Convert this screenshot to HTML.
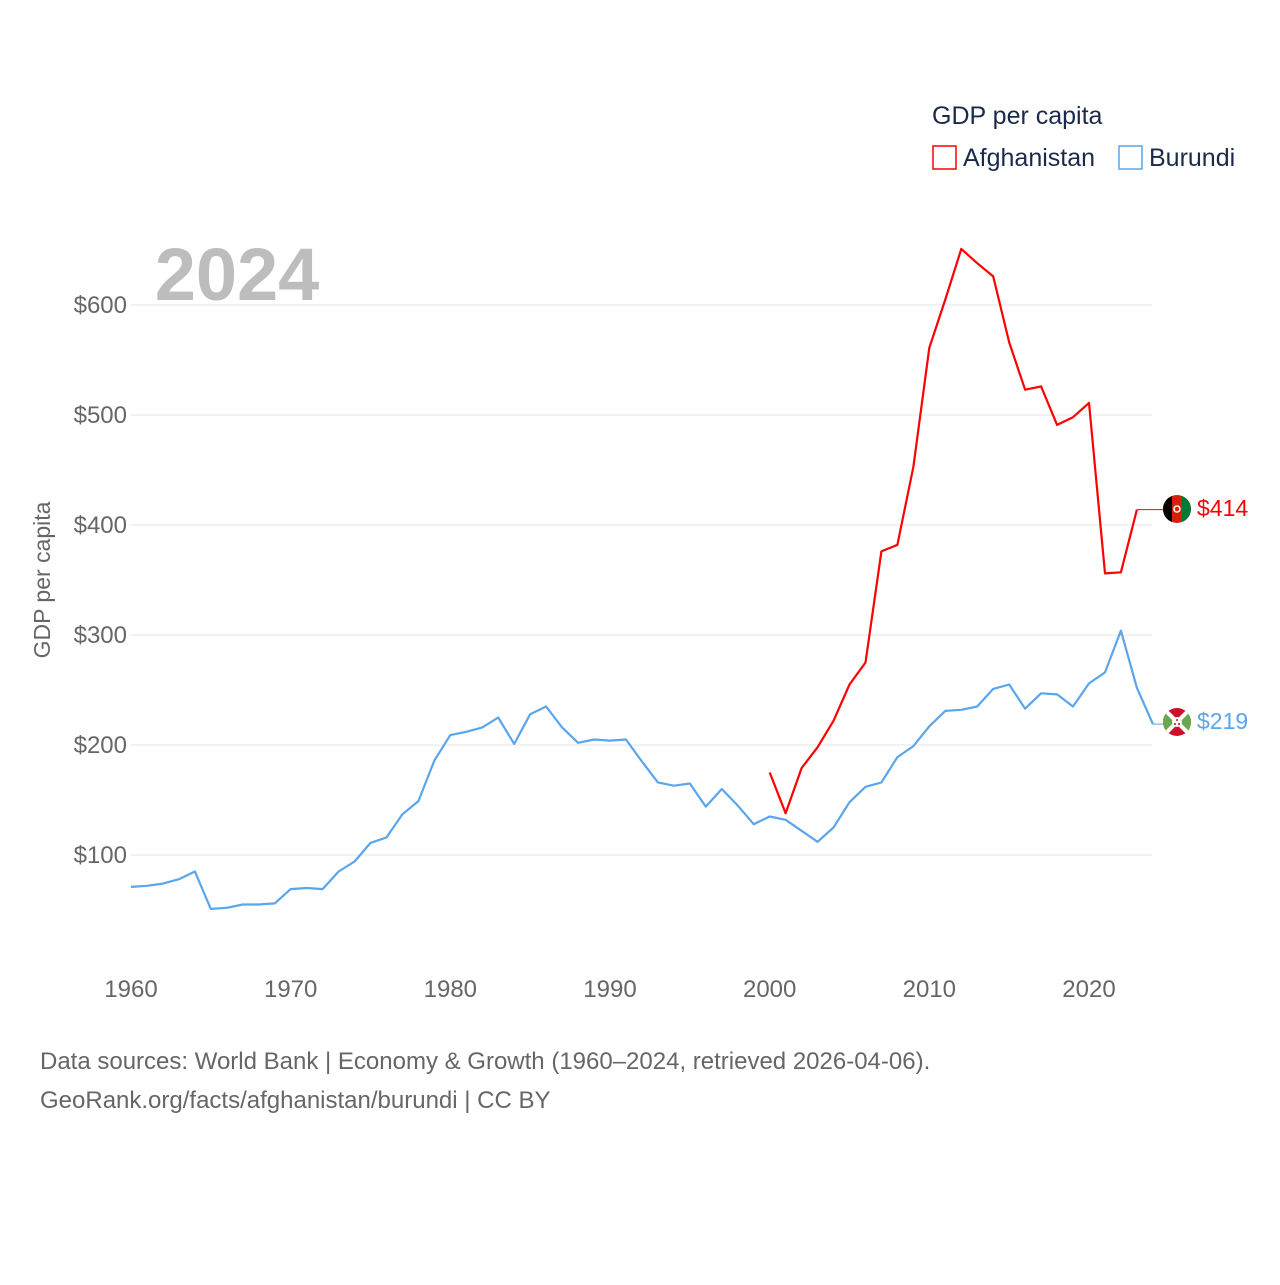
<!DOCTYPE html>
<html><head><meta charset="utf-8"><style>
body{margin:0;background:#fff;font-family:"Liberation Sans",sans-serif;}
svg text{font-family:"Liberation Sans",sans-serif;}
</style></head><body>
<svg width="1280" height="1280" viewBox="0 0 1280 1280">
<defs><clipPath id="bc"><circle cx="1177" cy="722" r="14"/></clipPath></defs>
<g id="grid"></g>
<g id="ylabels"></g>
<g id="xlabels"></g>
<text x="237" y="300" font-size="74" font-weight="bold" fill="#bdbdbd" text-anchor="middle">2024</text>
<text x="50" y="580" font-size="23" fill="#666" text-anchor="middle" transform="rotate(-90 50 580)">GDP per capita</text>
<text x="932" y="124" font-size="25" fill="#1a2a4a">GDP per capita</text>
<g><rect x="933" y="146" width="23" height="23" fill="none" stroke="#f00" stroke-width="1.5"/><text x="963" y="166" font-size="25" fill="#1a2a4a">Afghanistan</text></g>
<g><rect x="1119" y="146" width="23" height="23" fill="none" stroke="#5aa5ec" stroke-width="1.5"/><text x="1149" y="166" font-size="25" fill="#1a2a4a">Burundi</text></g>
<g id="series"></g>
<g>
<circle cx="1177" cy="509" r="14" fill="#d32011"/><path d="M1163 509a14 14 0 0 1 9-13v26a14 14 0 0 1-9-13z" fill="#000"/><path d="M1191 509a14 14 0 0 1-9 13v-26a14 14 0 0 1 9 13z" fill="#007a36"/><circle cx="1177" cy="509" r="3" fill="none" stroke="#fff" stroke-width="1.5"/>
<text x="1197" y="516" font-size="23" fill="#f00">$414</text></g>
<g>
<g clip-path="url(#bc)"><rect x="1163" y="708" width="28" height="28" fill="#ce1126"/><path d="M1163 708L1177 722L1163 736zM1191 708L1177 722L1191 736z" fill="#6aa84f"/><path d="M1163 708L1191 736M1163 736L1191 708" stroke="#fff" stroke-width="4"/></g><circle cx="1177" cy="722" r="5" fill="#fff"/><circle cx="1177" cy="720" r="1" fill="#ce1126"/><circle cx="1175" cy="724" r="1" fill="#ce1126"/><circle cx="1179" cy="724" r="1" fill="#ce1126"/>
<text x="1197" y="729" font-size="23" fill="#5aa5ec">$219</text></g>
<text x="40" y="1069" font-size="24" fill="#666">Data sources: World Bank | Economy &amp; Growth (1960–2024, retrieved 2026-04-06).</text>
<text x="40" y="1108" font-size="24" fill="#666">GeoRank.org/facts/afghanistan/burundi | CC BY</text>
</svg>
<script>
const years = [];
for (let y = 1960; y <= 2024; y++) years.push(y);
const burundi = [71,72,74,78,85,51,52,55,55,56,69,70,69,85,94,111,116,137,149,186,209,212,216,225,201,228,235,216,202,205,204,205,185,166,163,165,144,160,145,128,135,132,122,112,125,148,162,166,189,199,217,231,232,235,251,255,233,247,246,235,256,266,304,252,219];
const afghanYears = [2000,2001,2002,2003,2004,2005,2006,2007,2008,2009,2010,2011,2012,2013,2014,2015,2016,2017,2018,2019,2020,2021,2022,2023];
const afghanistan = [175,138,179,198,222,255,275,376,382,453,561,605,651,638,626,566,523,526,491,498,511,356,357,414];
const yTicks = [100,200,300,400,500,600];
const xTicks = [1960,1970,1980,1990,2000,2010,2020];
const NS = "http://www.w3.org/2000/svg";
const x = yr => 131 + (yr - 1960) * (958 / 60);
const y = v => 855 - (v - 100) * 1.1;
const grid = document.getElementById('grid'), yl = document.getElementById('ylabels'), xl = document.getElementById('xlabels'), ser = document.getElementById('series');
yTicks.forEach(t => {
  const l = document.createElementNS(NS, 'line');
  l.setAttribute('x1', 131); l.setAttribute('x2', 1152); l.setAttribute('y1', y(t)); l.setAttribute('y2', y(t));
  l.setAttribute('stroke', '#e6e6e6'); l.setAttribute('stroke-width', 1);
  
  
  grid.appendChild(l);
  const tx = document.createElementNS(NS, 'text');
  tx.setAttribute('x', 127); tx.setAttribute('y', y(t) + 8); tx.setAttribute('text-anchor', 'end');
  tx.setAttribute('font-size', '24'); tx.setAttribute('fill', '#666');
  tx.textContent = '$' + t;
  
  
  yl.appendChild(tx);
});
xTicks.forEach(t => {
  const tx = document.createElementNS(NS, 'text');
  tx.setAttribute('x', x(t)); tx.setAttribute('y', 997); tx.setAttribute('text-anchor', 'middle');
  tx.setAttribute('font-size', '24'); tx.setAttribute('fill', '#666');
  tx.textContent = t;
  
  
  xl.appendChild(tx);
});
function line(xs, vs, color, name, endX) {
  let d = xs.map((yr, i) => (i ? 'L' : 'M') + x(yr).toFixed(1) + ' ' + y(vs[i]).toFixed(1)).join(' ');
  const p = document.createElementNS(NS, 'path');
  p.setAttribute('d', d); p.setAttribute('fill', 'none'); p.setAttribute('stroke', color); p.setAttribute('stroke-width', 2.2);
  p.setAttribute('stroke-linejoin', 'round');
  
  
  ser.appendChild(p);
  const c = document.createElementNS(NS, 'line');
  const last = vs[vs.length - 1];
  c.setAttribute('x1', x(xs[xs.length - 1])); c.setAttribute('x2', endX);
  c.setAttribute('y1', y(last)); c.setAttribute('y2', y(last));
  c.setAttribute('stroke', color); c.setAttribute('stroke-width', 1);
  
  
  ser.appendChild(c);
}
line(years, burundi, '#5aa5ec', 'burundi-line', 1163);
line(afghanYears, afghanistan, '#ff0000', 'afghanistan-line', 1163);
</script>
</body></html>
